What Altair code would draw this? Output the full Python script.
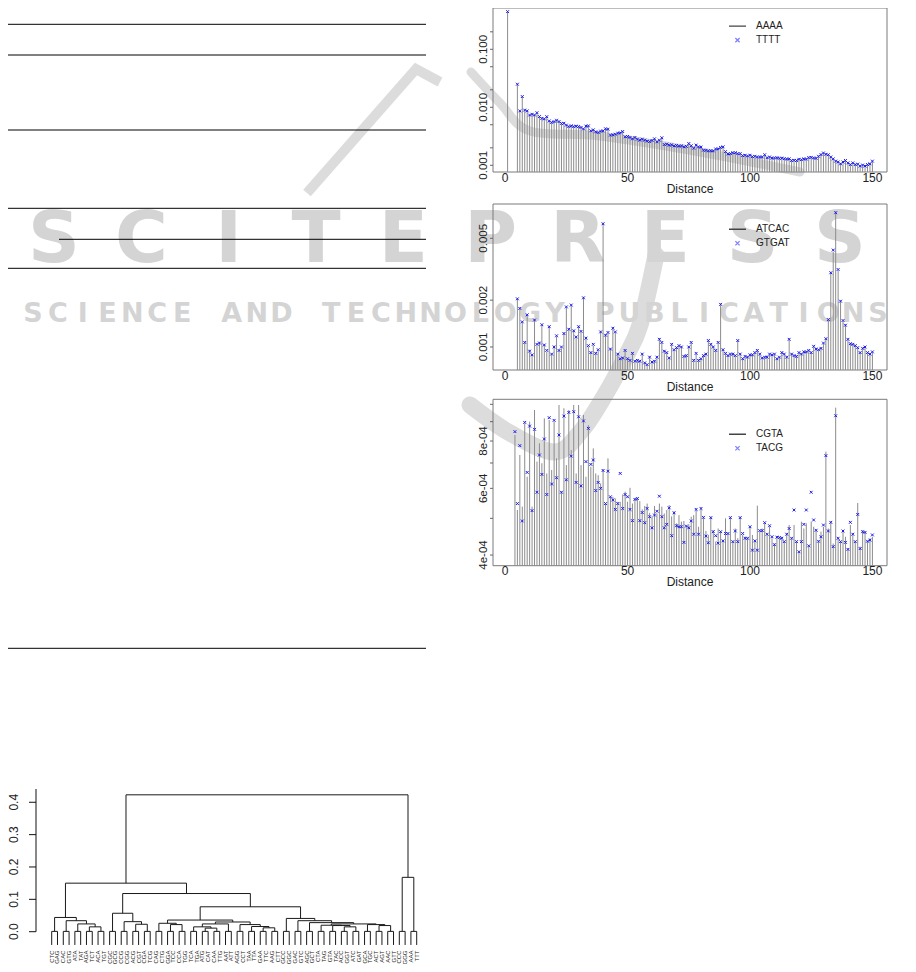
import altair as alt
import pandas as pd

# ------------------------------------------------------------------ data
# Panel 1: AAAA (spikes) / TTTT (crosses), log scale
AAAA_DIST = [1] + list(range(5, 151))
AAAA = [0.445,
        0.0249, 0.00863, 0.0152, 0.00898, 0.00863, 0.00737, 0.00756, 0.00737, 0.00808, 0.0069,
        0.00645, 0.00628, 0.0069, 0.0058, 0.0055, 0.00565, 0.0060, 0.00565, 0.00529, 0.00529,
        0.00495, 0.00464, 0.00482, 0.00464, 0.00476, 0.00464, 0.00451, 0.00422, 0.00476, 0.00476,
        0.00396, 0.00406, 0.0038, 0.00365, 0.0039, 0.0039, 0.00428, 0.00417, 0.00333, 0.00333,
        0.00346, 0.00356, 0.00365, 0.0038, 0.00312, 0.00312, 0.00304, 0.00284, 0.00304, 0.0028,
        0.00273, 0.0028, 0.00273, 0.00259, 0.00259, 0.00266, 0.00288, 0.00252, 0.00273, 0.00296,
        0.0023, 0.0023, 0.00224, 0.00224, 0.00218, 0.00218, 0.00215, 0.00215, 0.0021, 0.0021,
        0.00239, 0.00215, 0.00199, 0.00221, 0.0021, 0.00204, 0.00184, 0.00179, 0.00179, 0.00176,
        0.00179, 0.00189, 0.00194, 0.00201, 0.0021, 0.0017, 0.00159, 0.00157, 0.00167, 0.00163,
        0.00161, 0.00157, 0.00149, 0.00147, 0.00147, 0.00147, 0.00143, 0.00141, 0.00141, 0.00137,
        0.00141, 0.0015, 0.00137, 0.00137, 0.00135, 0.00132, 0.00137, 0.0013, 0.00135, 0.00128,
        0.0013, 0.00127, 0.00123, 0.0012, 0.00123, 0.00125, 0.00127, 0.00127, 0.0013, 0.00134,
        0.00139, 0.00132, 0.00134, 0.00141, 0.00155, 0.00161, 0.00157, 0.0015, 0.00141, 0.00127,
        0.0012, 0.00112, 0.00108, 0.00112, 0.00123, 0.00108, 0.00105, 0.00108, 0.00105, 0.00103,
        0.00099, 0.00099, 0.00099, 0.00101, 0.00108, 0.00116]
TTTT_DIST = [1] + list(range(5, 151))
TTTT = [0.446,
        0.0250, 0.00866, 0.0153, 0.00895, 0.00866, 0.00735, 0.00758, 0.00735, 0.00806, 0.00692,
        0.00643, 0.0063, 0.00688, 0.00582, 0.00548, 0.00567, 0.00598, 0.00567, 0.00527, 0.00531,
        0.00493, 0.00466, 0.0048, 0.00466, 0.00474, 0.00466, 0.00449, 0.00424, 0.00474, 0.00478,
        0.00394, 0.00408, 0.00378, 0.00367, 0.00388, 0.00392, 0.00426, 0.00419, 0.00331, 0.00335,
        0.00344, 0.00358, 0.00363, 0.00382, 0.0031, 0.00314, 0.00302, 0.00286, 0.00302, 0.00282,
        0.00271, 0.00282, 0.00271, 0.00261, 0.00257, 0.00268, 0.00286, 0.00254, 0.00271, 0.00298,
        0.00228, 0.00232, 0.00222, 0.00226, 0.00216, 0.0022, 0.00213, 0.00217, 0.00208, 0.00212,
        0.00237, 0.00217, 0.00197, 0.00223, 0.00208, 0.00206, 0.00182, 0.00181, 0.00177, 0.00178,
        0.00177, 0.00191, 0.00192, 0.00203, 0.00208, 0.00172, 0.00157, 0.00159, 0.00165, 0.00165,
        0.00159, 0.00159, 0.00147, 0.00149, 0.00145, 0.00149, 0.00141, 0.00143, 0.00139, 0.00139,
        0.00139, 0.00152, 0.00135, 0.00139, 0.00133, 0.00134, 0.00135, 0.00132, 0.00133, 0.0013,
        0.00128, 0.00129, 0.00121, 0.00122, 0.00121, 0.00127, 0.00125, 0.00129, 0.00128, 0.00136,
        0.00137, 0.00134, 0.00132, 0.00143, 0.00153, 0.00163, 0.00155, 0.00152, 0.00139, 0.00129,
        0.00118, 0.00114, 0.00106, 0.00114, 0.00121, 0.0011, 0.00103, 0.0011, 0.00103, 0.00105,
        0.00097, 0.00101, 0.00097, 0.00103, 0.00106, 0.00118]

# Panel 2: ATCAC (spikes) / GTGAT (crosses), log scale
ATCAC_DIST = list(range(5, 151))
ATCAC = [0.00206, 0.00179, 0.00143, 0.00108, 0.00163, 0.00096, 0.0009, 0.00151, 0.00102, 0.00108,
         0.00137, 0.00104, 0.00093, 0.00137, 0.00089, 0.00102, 0.00116, 0.00096, 0.00098, 0.00124,
         0.00179, 0.00132, 0.00184, 0.00129, 0.00114, 0.00137, 0.00124, 0.0021, 0.00116, 0.001,
         0.00093, 0.00102, 0.00092, 0.00094, 0.00127, 0.0063, 0.00121, 0.00122, 0.00098, 0.00134,
         0.00123, 0.00091, 0.00083, 0.00086, 0.00094, 0.00085, 0.00081, 0.00092, 0.0008, 0.00083,
         0.0008, 0.00091, 0.0008, 0.00076, 0.00087, 0.00079, 0.00082, 0.00085, 0.00114, 0.00106,
         0.00095, 0.00091, 0.00086, 0.00105, 0.00095, 0.001, 0.00101, 0.00101, 0.00086, 0.00089,
         0.00101, 0.00106, 0.00083, 0.0009, 0.00083, 0.00083, 0.00089, 0.00089, 0.00111, 0.00105,
         0.00099, 0.00096, 0.00106, 0.0019, 0.00097, 0.0009, 0.00089, 0.00089, 0.00091, 0.00087,
         0.00111, 0.00089, 0.00085, 0.00086, 0.00087, 0.00088, 0.0009, 0.00091, 0.00096, 0.00089,
         0.00086, 0.00085, 0.00087, 0.00089, 0.0009, 0.00089, 0.00085, 0.00085, 0.00093, 0.00089,
         0.00087, 0.00113, 0.00091, 0.00087, 0.00088, 0.00091, 0.00091, 0.00092, 0.00094, 0.00094,
         0.00093, 0.001, 0.00098, 0.00095, 0.00099, 0.00105, 0.00114, 0.00148, 0.00305, 0.0041,
         0.0075, 0.0031, 0.00199, 0.00146, 0.0014, 0.00111, 0.00106, 0.00103, 0.00103, 0.00098,
         0.00093, 0.00097, 0.00101, 0.00091, 0.00091, 0.00092]
GTGAT_DIST = list(range(5, 151))
GTGAT = [0.00204, 0.00177, 0.00145, 0.00107, 0.00161, 0.00094, 0.00089, 0.00149, 0.00104, 0.00106,
         0.00139, 0.00103, 0.00095, 0.00135, 0.0009, 0.001, 0.00118, 0.00095, 0.001, 0.00122,
         0.00181, 0.0013, 0.00186, 0.00127, 0.00116, 0.00135, 0.00126, 0.00207, 0.00114, 0.00102,
         0.00092, 0.00104, 0.00091, 0.00096, 0.00125, 0.0062, 0.00119, 0.00124, 0.00097, 0.00132,
         0.00125, 0.0009, 0.00084, 0.00085, 0.00095, 0.00084, 0.00082, 0.00091, 0.00081, 0.00082,
         0.00081, 0.0009, 0.00079, 0.00077, 0.00086, 0.0008, 0.00081, 0.00086, 0.00112, 0.00107,
         0.00094, 0.00092, 0.00085, 0.00104, 0.00096, 0.00099, 0.00102, 0.001, 0.00087, 0.00088,
         0.001, 0.00107, 0.00082, 0.00091, 0.00082, 0.00084, 0.00088, 0.0009, 0.0011, 0.00104,
         0.001, 0.00095, 0.00107, 0.00188, 0.00096, 0.00091, 0.00088, 0.0009, 0.0009, 0.00088,
         0.0011, 0.0009, 0.00084, 0.00087, 0.00086, 0.00089, 0.00089, 0.00092, 0.00095, 0.0009,
         0.00085, 0.00086, 0.00086, 0.0009, 0.00089, 0.0009, 0.00084, 0.00086, 0.00092, 0.0009,
         0.00086, 0.00112, 0.0009, 0.00088, 0.00087, 0.00092, 0.0009, 0.00093, 0.00093, 0.00095,
         0.00092, 0.00101, 0.00097, 0.00096, 0.00098, 0.00106, 0.00113, 0.0015, 0.003, 0.0042,
         0.0073, 0.00315, 0.00197, 0.00148, 0.00138, 0.00112, 0.00105, 0.00104, 0.00102, 0.00099,
         0.00092, 0.00098, 0.001, 0.00092, 0.0009, 0.00093]

# Panel 3: CGTA (spikes) / TACG (crosses), log scale
CGTA_DIST = list(range(4, 151))
CGTA = [8.30e-4, 5.26e-4, 7.35e-4, 5.37e-4, 8.91e-4, 6.44e-4, 9.00e-4, 5.37e-4, 9.66e-4, 7.06e-4,
        7.89e-4, 6.99e-4, 9.18e-4, 6.57e-4, 9.09e-4, 6.71e-4, 9.00e-4, 7.20e-4, 9.96e-4, 5.88e-4,
        9.76e-4, 6.91e-4, 9.66e-4, 7.57e-4, 9.96e-4, 6.57e-4, 9.96e-4, 6.91e-4, 9.37e-4, 6.44e-4,
        8.81e-4, 6.84e-4, 7.65e-4, 6.57e-4, 6.50e-4, 6.18e-4, 6.71e-4, 5.47e-4, 7.20e-4, 5.70e-4,
        5.70e-4, 5.64e-4, 5.53e-4, 5.53e-4, 5.78e-4, 5.88e-4, 5.53e-4, 6.02e-4, 5.47e-4, 5.64e-4,
        5.67e-4, 5.55e-4, 5.28e-4, 5.39e-4, 5.47e-4, 5.17e-4, 5.06e-4, 5.39e-4, 5.15e-4, 5.47e-4,
        5.37e-4, 5.15e-4, 5.26e-4, 5.42e-4, 5.06e-4, 5.22e-4, 4.85e-4, 5.10e-4, 4.90e-4, 4.92e-4,
        4.75e-4, 4.82e-4, 5.05e-4, 5.10e-4, 5.28e-4, 4.75e-4, 5.31e-4, 5.03e-4, 4.63e-4, 4.52e-4,
        5.05e-4, 4.65e-4, 4.34e-4, 4.70e-4, 4.61e-4, 4.38e-4, 5.00e-4, 4.56e-4, 5.05e-4, 4.34e-4,
        4.70e-4, 4.43e-4, 5.05e-4, 4.52e-4, 4.47e-4, 4.43e-4, 4.75e-4, 4.52e-4, 4.34e-4, 5.40e-4,
        4.61e-4, 4.70e-4, 4.85e-4, 4.52e-4, 4.75e-4, 4.43e-4, 4.29e-4, 4.47e-4, 4.43e-4, 4.47e-4,
        4.34e-4, 4.56e-4, 4.80e-4, 4.43e-4, 4.80e-4, 4.34e-4, 4.08e-4, 4.90e-4, 4.70e-4, 4.85e-4,
        4.21e-4, 4.90e-4, 4.75e-4, 4.65e-4, 4.34e-4, 4.61e-4, 4.75e-4, 7.50e-4, 4.70e-4, 4.90e-4,
        4.29e-4, 9.80e-4, 4.43e-4, 4.34e-4, 4.65e-4, 4.47e-4, 4.16e-4, 4.80e-4, 4.56e-4, 4.34e-4,
        5.49e-4, 4.21e-4, 4.65e-4, 4.61e-4, 4.34e-4, 4.43e-4, 4.47e-4]
TACG_DIST = list(range(4, 151))
TACG = [8.47e-4, 5.47e-4, 7.78e-4, 4.92e-4, 8.96e-4, 6.61e-4, 8.76e-4, 5.24e-4, 8.59e-4, 5.86e-4,
        7.35e-4, 6.53e-4, 8.10e-4, 5.78e-4, 9.22e-4, 6.16e-4, 9.07e-4, 6.40e-4, 8.30e-4, 5.86e-4,
        9.31e-4, 6.32e-4, 9.52e-4, 7.30e-4, 9.56e-4, 6.22e-4, 9.27e-4, 6.09e-4, 9.04e-4, 7.06e-4,
        8.64e-4, 6.94e-4, 7.13e-4, 5.92e-4, 6.22e-4, 6.00e-4, 6.69e-4, 5.47e-4, 6.66e-4, 5.70e-4,
        5.59e-4, 5.28e-4, 5.47e-4, 6.57e-4, 5.31e-4, 5.78e-4, 5.70e-4, 5.28e-4, 4.93e-4, 5.61e-4,
        5.64e-4, 4.93e-4, 5.18e-4, 4.87e-4, 5.31e-4, 5.05e-4, 4.72e-4, 5.10e-4, 5.22e-4, 5.72e-4,
        5.05e-4, 4.72e-4, 4.82e-4, 5.33e-4, 4.50e-4, 5.17e-4, 4.78e-4, 4.75e-4, 4.75e-4, 4.32e-4,
        4.77e-4, 4.72e-4, 4.92e-4, 4.54e-4, 5.28e-4, 4.54e-4, 5.31e-4, 5.03e-4, 4.49e-4, 4.31e-4,
        5.02e-4, 4.61e-4, 4.50e-4, 4.30e-4, 4.61e-4, 4.36e-4, 4.56e-4, 4.56e-4, 5.02e-4, 4.34e-4,
        4.63e-4, 4.34e-4, 5.02e-4, 4.56e-4, 4.43e-4, 4.43e-4, 4.75e-4, 4.12e-4, 4.36e-4, 4.12e-4,
        4.64e-4, 4.64e-4, 4.87e-4, 4.54e-4, 4.78e-4, 4.47e-4, 4.26e-4, 4.46e-4, 4.45e-4, 4.43e-4,
        4.34e-4, 4.54e-4, 4.70e-4, 4.43e-4, 5.26e-4, 4.34e-4, 4.08e-4, 4.34e-4, 4.82e-4, 5.26e-4,
        4.23e-4, 5.86e-4, 4.95e-4, 4.65e-4, 4.35e-4, 4.47e-4, 4.80e-4, 7.32e-4, 4.63e-4, 4.88e-4,
        4.21e-4, 9.33e-4, 4.43e-4, 4.34e-4, 4.63e-4, 4.32e-4, 4.14e-4, 4.88e-4, 4.54e-4, 4.34e-4,
        5.12e-4, 4.16e-4, 4.61e-4, 4.59e-4, 4.35e-4, 4.38e-4, 4.52e-4]

DIST_TICKS = [0, 50, 100, 150]
P1_TICKS = [0.001, 0.002, 0.005, 0.01, 0.02, 0.05, 0.1, 0.2]
P1_LABELS = ["0.001", "", "", "0.010", "", "", "0.100", ""]
P2_TICKS = [0.001, 0.002, 0.005]
P2_LABELS = ["0.001", "0.002", "0.005"]
P3_TICKS = [4e-4, 5e-4, 6e-4, 7e-4, 8e-4, 9e-4, 1e-3]
P3_LABELS = ["4e-04", "", "6e-04", "", "8e-04", "", ""]

# Dendrogram of the 64 trinucleotides (leaf order as drawn)
LEAVES = ["CTC", "GAG", "CAC", "GTG", "ATA", "TAT", "AGA", "TCT", "ACA", "TGT",
          "CGC", "GCG", "CCG", "CGG", "ACG", "CGT", "CGA", "TCG", "CAG", "CTG",
          "GGA", "TCC", "CCA", "TGG", "TCA", "TGA", "ATG", "CAT", "CAA", "TTG",
          "AAT", "ATT", "AGG", "CCT", "TAA", "TTA", "GAA", "TTC", "AAG", "CTT",
          "GCC", "GGC", "GAC", "GTC", "AGC", "GCT", "CTA", "TAG", "GTA", "TAC",
          "ACC", "GGT", "ATC", "GAT", "GCA", "TGC", "ACT", "AGT", "AAC", "GTT",
          "CCC", "GGG", "AAA", "TTT"]
# (left, right, height): strings are leaves, integers are earlier merges (0-based)
MERGES = [
    ("CTC", "GAG", 0.001), ("CAC", "GTG", 0.001), ("ATA", "TAT", 0.001), ("AGA", "TCT", 0.001),
    ("ACA", "TGT", 0.001), ("CGC", "GCG", 0.001), ("CCG", "CGG", 0.001), ("ACG", "CGT", 0.001),
    ("CGA", "TCG", 0.001), ("CAG", "CTG", 0.001), ("GGA", "TCC", 0.001), ("CCA", "TGG", 0.001),
    ("TCA", "TGA", 0.001), ("ATG", "CAT", 0.001), ("CAA", "TTG", 0.001), ("AAT", "ATT", 0.001),
    ("AGG", "CCT", 0.001), ("TAA", "TTA", 0.001), ("GAA", "TTC", 0.001), ("AAG", "CTT", 0.001),
    ("GCC", "GGC", 0.001), ("GAC", "GTC", 0.001), ("AGC", "GCT", 0.001), ("CTA", "TAG", 0.001),
    ("GTA", "TAC", 0.001), ("ACC", "GGT", 0.001), ("ATC", "GAT", 0.001), ("GCA", "TGC", 0.001),
    ("ACT", "AGT", 0.001), ("AAC", "GTT", 0.001), ("CCC", "GGG", 0.001), ("AAA", "TTT", 0.001),
    (3, 4, 0.015), (2, 32, 0.024), (1, 33, 0.034), (0, 34, 0.044),
    (7, 8, 0.023), (6, 36, 0.031), (5, 37, 0.057),
    (10, 11, 0.022), (9, 39, 0.026), (13, 14, 0.011), (12, 41, 0.015), (42, 15, 0.024),
    (18, 19, 0.012), (17, 44, 0.016), (16, 45, 0.022), (43, 46, 0.030), (40, 47, 0.036),
    (28, 29, 0.019), (27, 49, 0.022), (25, 26, 0.015), (24, 51, 0.019), (23, 52, 0.020),
    (53, 50, 0.024), (22, 54, 0.028), (21, 55, 0.034), (20, 56, 0.041),
    (48, 57, 0.077), (38, 58, 0.118), (35, 59, 0.150), (30, 31, 0.168), (60, 61, 0.423),
]
HANG = 0.042
DENDRO_TICKS = [0.0, 0.1, 0.2, 0.3, 0.4]
DENDRO_LABELS = ["0.0", "0.1", "0.2", "0.3", "0.4"]

WATERMARK_BIG = "SCITEPRESS"
WATERMARK_SMALL = "SCIENCE AND TECHNOLOGY PUBLICATIONS"

# ------------------------------------------------------------------ layout constants (chart px)
FONT = "Liberation Sans"
W, H = 900, 956
XDOM = [-4.96, 155.96]
XRANGE = [485, 879]
XMID = (XRANGE[0] + XRANGE[1]) / 2
CROSS = "M-1,-1L1,1M-1,1L1,-1"
CROSS_LEG = "M-0.25,-0.25L0.25,0.25M-0.25,0.25L0.25,-0.25"
TXT = "#222222"
WM_GREY = "#d4d4d4"


def spike_panel(line_name, line_d, line_v, pt_name, pt_d, pt_v,
                ydom, yrng, yticks, ylabels, leg_y):
    xs = alt.Scale(domain=XDOM, range=XRANGE, nice=False, zero=False)
    ys = alt.Scale(type="log", domain=ydom, range=yrng, nice=False)
    bottom = yrng[0]
    ldf = pd.DataFrame({"d": line_d, "v": line_v})
    pdf = pd.DataFrame({"d": pt_d, "v": pt_v})

    frame = alt.Chart(pd.DataFrame({"k": [0]})).mark_rect(
        filled=False, color="#7a7a7a", strokeWidth=1
    ).encode(x=alt.X(datum=XDOM[0], scale=xs, axis=None), x2=alt.datum(XDOM[1]),
             y=alt.Y(datum=ydom[0], scale=ys, axis=None), y2=alt.datum(ydom[1]))
    spikes = alt.Chart(ldf).mark_rule(color="#8c8c8c", strokeWidth=1).encode(
        x=alt.X("d:Q", scale=xs, axis=None),
        y=alt.Y("v:Q", scale=ys, axis=None),
        y2=alt.datum(ydom[0]))
    pts = alt.Chart(pdf).mark_point(shape=CROSS, size=8, filled=False, color="#1a1aee",
                                    strokeWidth=1, opacity=1).encode(
        x=alt.X("d:Q", scale=xs, axis=None),
        y=alt.Y("v:Q", scale=ys, axis=None))

    # axis pieces drawn through the panel scales
    xlab = alt.Chart(pd.DataFrame({"t": DIST_TICKS})).mark_text(
        font=FONT, fontSize=12, color=TXT, baseline="top", align="center"
    ).encode(x=alt.X("t:Q", scale=xs, axis=None), y=alt.value(bottom + 0.6),
             text=alt.Text("t:Q", format="d"))
    xtitle = alt.Chart(pd.DataFrame({"t": ["Distance"]})).mark_text(
        font=FONT, fontSize=12, color=TXT, baseline="alphabetic", align="center"
    ).encode(x=alt.value(XMID), y=alt.value(bottom + 20.5), text="t:N")
    tdf = pd.DataFrame({"v": yticks, "lab": ylabels})
    yt = alt.Chart(tdf).mark_rule(color="#666666", strokeWidth=1).encode(
        y=alt.Y("v:Q", scale=ys, axis=None),
        x=alt.value(XRANGE[0] - 3), x2=alt.value(XRANGE[0]))
    ylab = alt.Chart(tdf).mark_text(
        font=FONT, fontSize=11.5, color=TXT, angle=270, align="center", baseline="alphabetic"
    ).encode(y=alt.Y("v:Q", scale=ys, axis=None), x=alt.value(XRANGE[0] - 6.3), text="lab:N")

    leg = alt.Legend(orient="none", legendX=720, legendY=leg_y, title=None,
                     labelFont=FONT, labelFontSize=10, labelColor=TXT,
                     symbolSize=289, symbolStrokeWidth=1.3, clipHeight=13.3, rowPadding=0,
                     padding=0, labelOffset=9, symbolOpacity=1)
    names = [line_name, pt_name]
    dummy = alt.Chart(pd.DataFrame({"s": names})).mark_point(opacity=0, filled=False).encode(
        color=alt.Color("s:N", scale=alt.Scale(domain=names, range=["#444444", "#8080ff"]),
                        legend=leg),
        shape=alt.Shape("s:N", scale=alt.Scale(domain=names, range=["stroke", CROSS_LEG]),
                        legend=leg))
    return alt.layer(frame, spikes, pts, xlab, xtitle, yt, ylab, dummy)


p1 = spike_panel("AAAA", AAAA_DIST, AAAA, "TTTT", TTTT_DIST, TTTT,
                 [0.000766, 0.515], [164, 0], P1_TICKS, P1_LABELS, 11.4)
p2 = spike_panel("ATCAC", ATCAC_DIST, ATCAC, "GTGAT", GTGAT_DIST, GTGAT,
                 [0.000711, 0.00831], [362, 196], P2_TICKS, P2_LABELS, 214.6)
p3 = spike_panel("CGTA", CGTA_DIST, CGTA, "TACG", TACG_DIST, TACG,
                 [3.749e-4, 1.031e-3], [557.7, 391.3], P3_TICKS, P3_LABELS, 419.6)

# ------------------------------------------------------------------ dendrogram
pos = {name: i + 1 for i, name in enumerate(LEAVES)}
node_x, node_h, segs, leaf_bottom = [], [], [], {}
for a, b, h in MERGES:
    ends = []
    for c in (a, b):
        if isinstance(c, str):
            cx, ch = pos[c], h - HANG
            leaf_bottom[c] = ch
        else:
            cx, ch = node_x[c], node_h[c]
        segs.append({"x": cx, "x2": cx, "y": h, "y2": ch})
        ends.append(cx)
    segs.append({"x": ends[0], "x2": ends[1], "y": h, "y2": h})
    node_x.append((ends[0] + ends[1]) / 2)
    node_h.append(h)
segdf = pd.DataFrame(segs)
labdf = pd.DataFrame({"label": LEAVES, "x": [pos[n] for n in LEAVES],
                      "y": [leaf_bottom[n] for n in LEAVES]})

DX0 = 28  # x of the dendrogram's height axis
dxs = alt.Scale(domain=[1, 64], range=[43.7, 408.7], nice=False, zero=False)
dys = alt.Scale(domain=[0, 0.441], range=[923.7, 781.0], nice=False, zero=False)
dseg = alt.Chart(segdf).mark_rule(color="#1a1a1a", strokeWidth=1).encode(
    x=alt.X("x:Q", scale=dxs, axis=None), x2="x2:Q",
    y=alt.Y("y:Q", scale=dys, axis=None), y2="y2:Q")
dlab = alt.Chart(labdf).mark_text(angle=270, align="right", baseline="middle",
                                  fontSize=6, font=FONT, color=TXT).encode(
    x=alt.X("x:Q", scale=dxs, axis=None),
    y=alt.Y("y:Q", scale=dys, axis=None),
    yOffset=alt.value(5.5),
    text="label:N")
daxis_line = alt.Chart(pd.DataFrame({"k": [0]})).mark_rule(color="#111111", strokeWidth=1).encode(
    x=alt.value(DX0), y=alt.Y(datum=0, scale=dys, axis=None), y2=alt.datum(0.441))
dtdf = pd.DataFrame({"v": DENDRO_TICKS, "lab": DENDRO_LABELS})
dticks = alt.Chart(dtdf).mark_rule(color="#111111", strokeWidth=1).encode(
    y=alt.Y("v:Q", scale=dys, axis=None), x=alt.value(DX0 - 7), x2=alt.value(DX0))
dtlab = alt.Chart(dtdf).mark_text(font=FONT, fontSize=12, color=TXT, angle=270,
                                  align="center", baseline="alphabetic").encode(
    y=alt.Y("v:Q", scale=dys, axis=None), x=alt.value(DX0 - 17.6), text="lab:N")
dendro = alt.layer(dseg, dlab, daxis_line, dticks, dtlab)

# ------------------------------------------------------------------ page decoration
rules_df = pd.DataFrame({"x0": [0, 0, 0, 0, 51, 0, 0],
                         "x1": [418, 418, 418, 418, 418, 418, 418],
                         "y": [16.3, 47, 122, 200.3, 231.3, 260.3, 640.3]})
rules = alt.Chart(rules_df).mark_rule(color="#000000", strokeWidth=1).encode(
    x=alt.X("x0:Q", scale=None), x2="x1:Q", y=alt.Y("y:Q", scale=None))

# watermark swoosh strokes (publisher logo behind the page)
hook_df = pd.DataFrame({"o": [0, 1, 2], "x": [432, 408, 299], "y": [74, 61, 185]})
hook = alt.Chart(hook_df).mark_line(color="#dcdcdc", strokeWidth=10, interpolate="linear",
                                    strokeJoin="miter", strokeCap="butt").encode(
    x=alt.X("x:Q", scale=None), y=alt.Y("y:Q", scale=None), order="o:Q")
swoosh_df = pd.DataFrame({
    "band": ["b"] * 6 + ["c"] * 8,
    "o": list(range(6)) + list(range(8)),
    "x": [463, 492, 522, 592, 692, 792,
          462, 502, 547, 574, 597, 617, 632, 648],
    "y": [64, 95, 123, 128, 144, 164,
          397, 425, 444, 422, 387, 350, 317, 247],
    "w": [9] * 6 + [17] * 8,
})
swoosh = alt.Chart(swoosh_df).mark_line(color="#dcdcdc", interpolate="cardinal",
                                        strokeCap="round", strokeJoin="round").encode(
    x=alt.X("x:Q", scale=None), y=alt.Y("y:Q", scale=None),
    detail="band:N", order="o:Q",
    strokeWidth=alt.StrokeWidth("w:Q", scale=None, legend=None))

big_df = pd.DataFrame({"i": list(range(len(WATERMARK_BIG))), "ch": list(WATERMARK_BIG)})
wm_big = alt.Chart(big_df).mark_text(font="DejaVu Sans", fontWeight="bold", fontSize=72,
                                     color=WM_GREY, align="center", baseline="alphabetic").encode(
    x=alt.X("i:Q", scale=alt.Scale(domain=[0, len(WATERMARK_BIG) - 1], range=[46, 832]), axis=None),
    y=alt.value(253.7), text="ch:N")
small_df = pd.DataFrame({"i": list(range(len(WATERMARK_SMALL))), "ch": list(WATERMARK_SMALL)})
wm_small = alt.Chart(small_df).mark_text(font="DejaVu Sans", fontWeight="bold", fontSize=27,
                                         color=WM_GREY, align="center", baseline="alphabetic").encode(
    x=alt.X("i:Q", scale=alt.Scale(domain=[0, len(WATERMARK_SMALL) - 1], range=[25, 870]), axis=None),
    y=alt.value(313.7), text="ch:N")

chart = alt.layer(hook, swoosh, wm_big, wm_small, rules, p1, p2, p3, dendro).resolve_scale(
    x="independent", y="independent", color="independent", shape="independent"
).resolve_legend(color="independent", shape="independent").properties(
    width=W, height=H, padding=0, autosize=alt.AutoSizeParams(type="none"),
    background="white"
).configure_view(stroke=None)

chart.save("out.html", embed_options={"renderer": "svg", "actions": False})
